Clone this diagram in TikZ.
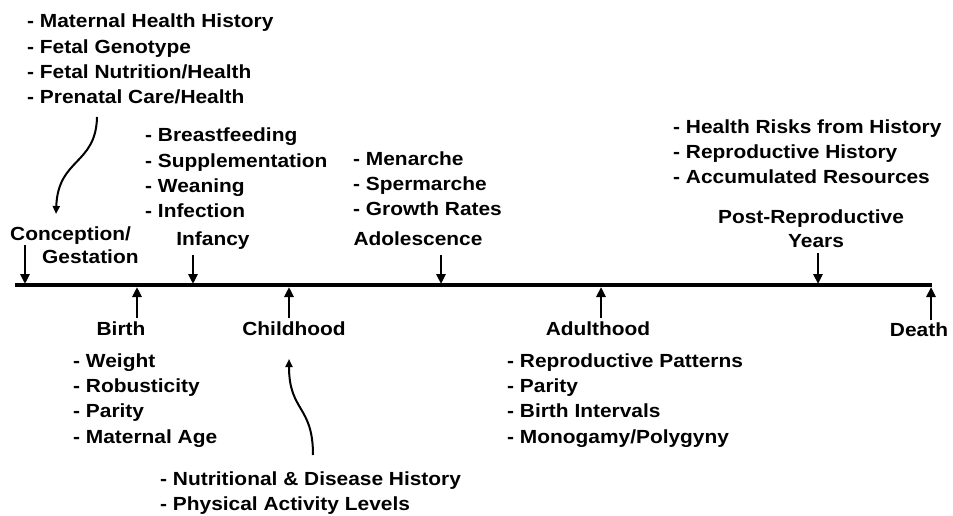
\documentclass[tikz,border=0pt]{standalone}
\usepackage{fontspec}
\setmainfont{Liberation Sans}[FakeStretch=1.1]
\usetikzlibrary{arrows.meta}
\tikzset{
  lbl/.style={font=\fontsize{19}{22}\selectfont\bfseries, inner sep=0pt, anchor=base},
  item/.style={lbl, anchor=base west},
  tl/.style={line width=3.5pt},
  marker/.style={line width=2.5pt, -{Triangle[length=10pt,width=9pt]}},
  curvy/.style={line width=2pt, -{Triangle[length=8pt,width=7pt]}}
}
\begin{document}
\begin{tikzpicture}[x=1pt,y=-1pt]
\useasboundingbox (0,0) rectangle (953,516);
% timeline
\coordinate (L) at (15,285);
\coordinate (R) at (932,285);
\draw[tl] (L) -- (R);
% labels above
\node[item] (conc) at (10,240) {Conception/};
\node[item] (gest) at (42,263) {Gestation};
\node[lbl] (inf) at (213,245) {Infancy};
\node[lbl] (ado) at (418,245) {Adolescence};
\node[lbl] (post) at (811,223) {Post-Reproductive};
\node[lbl] (years) at (816,247) {Years};
% labels below
\node[lbl] (birth) at (121,335) {Birth};
\node[lbl] (child) at (294,335) {Childhood};
\node[lbl] (adult) at (598,335) {Adulthood};
\node[lbl] (death) at (919,336) {Death};
% arrows onto the timeline
\coordinate (a1) at (25,245); \coordinate (b1) at (25,284);
\coordinate (a2) at (193,255); \coordinate (b2) at (193,284);
\coordinate (a3) at (441,255); \coordinate (b3) at (441,284);
\coordinate (a4) at (818,253); \coordinate (b4) at (818,284);
\draw[marker] (a1) -- (b1);
\draw[marker] (a2) -- (b2);
\draw[marker] (a3) -- (b3);
\draw[marker] (a4) -- (b4);
\coordinate (c1) at (137,318); \coordinate (d1) at (137,287);
\coordinate (c2) at (289,318); \coordinate (d2) at (289,287);
\coordinate (c3) at (601,318); \coordinate (d3) at (601,287);
\coordinate (c4) at (931,320); \coordinate (d4) at (931,287);
\draw[marker] (c1) -- (d1);
\draw[marker] (c2) -- (d2);
\draw[marker] (c3) -- (d3);
\draw[marker] (c4) -- (d4);
% lists
\foreach \t [count=\i] in {- Maternal Health History, - Fetal Genotype, - Fetal Nutrition/Health, - Prenatal Care/Health}
  \node[item] (pre\i) at (27,{28+25.3*(\i-1)}) {\t};
\foreach \t [count=\i] in {- Breastfeeding, - Supplementation, - Weaning, - Infection}
  \node[item] (infl\i) at (145,{142+25.3*(\i-1)}) {\t};
\foreach \t [count=\i] in {- Menarche, - Spermarche, - Growth Rates}
  \node[item] (adol\i) at (353,{165+25*(\i-1)}) {\t};
\foreach \t [count=\i] in {- Health Risks from History, - Reproductive History, - Accumulated Resources}
  \node[item] (postl\i) at (673,{134+24.5*(\i-1)}) {\t};
\foreach \t [count=\i] in {- Weight, - Robusticity, - Parity, - Maternal Age}
  \node[item] (birl\i) at (73,{367+25.4*(\i-1)}) {\t};
\foreach \t [count=\i] in {- Reproductive Patterns, - Parity, - Birth Intervals, - Monogamy/Polygyny}
  \node[item] (adul\i) at (507,{367+25.4*(\i-1)}) {\t};
\foreach \t [count=\i] in {- Nutritional \& Disease History, - Physical Activity Levels}
  \node[item] (chil\i) at (160,{485+25*(\i-1)}) {\t};
% curved connectors
\coordinate (s1) at (97,117);
\coordinate (e1) at (56,214);
\draw[curvy] (s1) .. controls (96,165) and (58,158) .. (e1);
\coordinate (s2) at (313,455);
\coordinate (e2) at (289,359);
\draw[curvy] (s2) .. controls (313,405) and (289,412) .. (e2);
\end{tikzpicture}
\end{document}
